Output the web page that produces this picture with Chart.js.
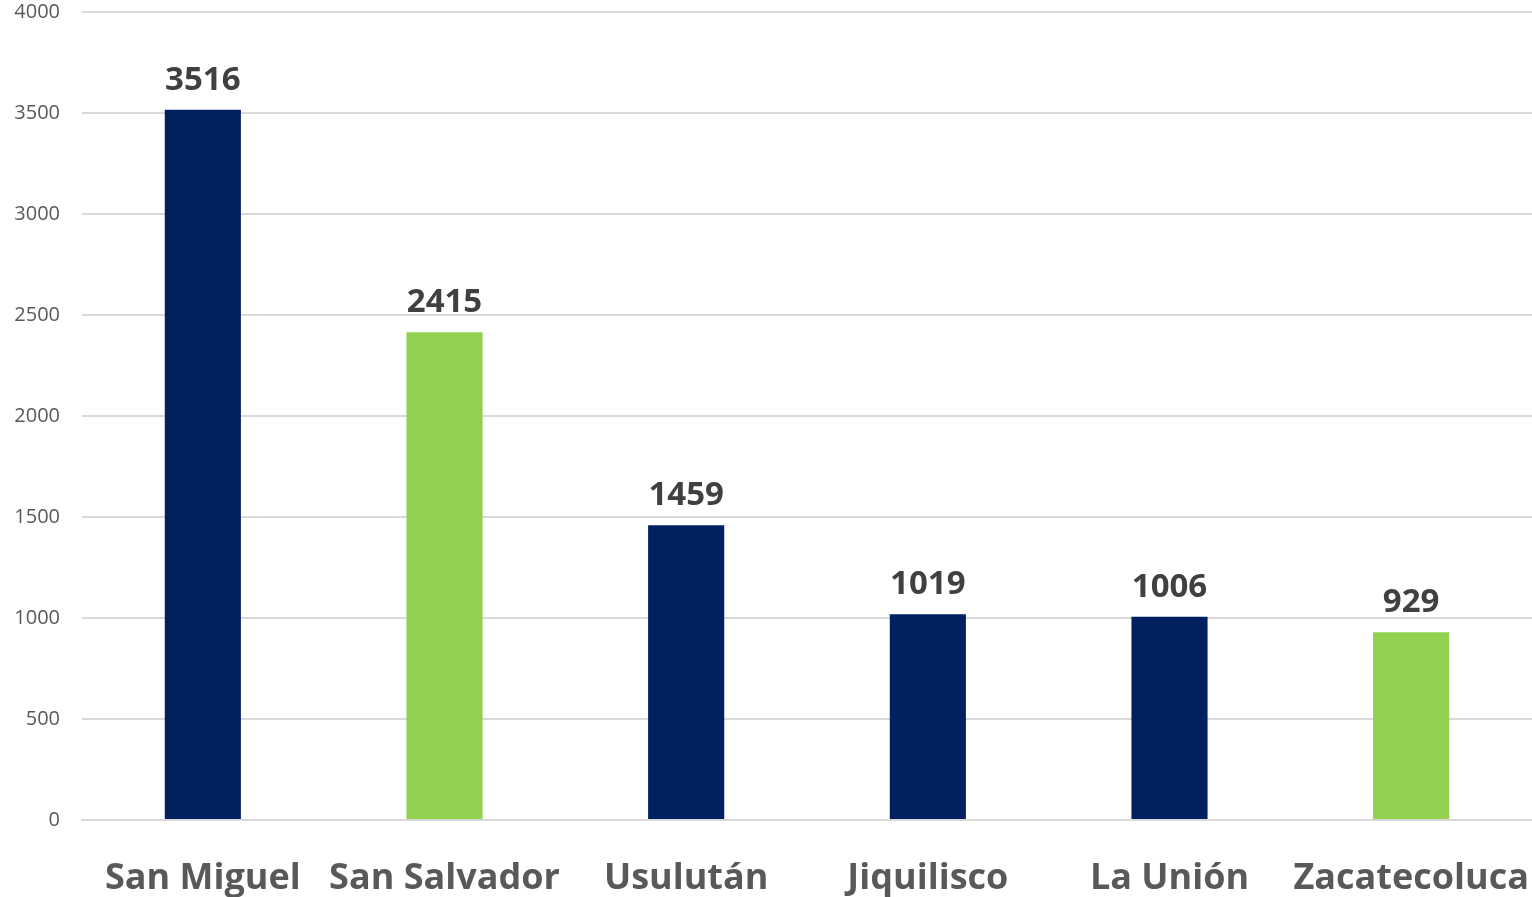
<!DOCTYPE html>
<html>
<head>
<meta charset="utf-8">
<script src="https://cdn.jsdelivr.net/npm/chart.js@4/dist/chart.umd.min.js"></script>
<style>
  html, body { margin: 0; padding: 0; background: #fff; }
  #wrap { width: 1532px; height: 897px; }
</style>
</head>
<body>
<div id="wrap"><canvas id="barChart"></canvas></div>
<script>
var ciudades = ["San Miguel", "San Salvador", "Usulután", "Jiquilisco", "La Unión", "Zacatecoluca"];
var casos = [3516, 2415, 1459, 1019, 1006, 929];
var colores = ["#002060", "#92D050", "#002060", "#002060", "#002060", "#92D050"];

// etiquetas encima de cada barra
var etiquetas = {
  id: "etiquetas",
  afterDatasetsDraw: function (chart) {
    var ctx = chart.ctx;
    var meta = chart.getDatasetMeta(0);
    ctx.save();
    ctx.font = "bold 33px 'Open Sans'";
    ctx.fillStyle = "#404040";
    ctx.textAlign = "center";
    ctx.textBaseline = "alphabetic";
    meta.data.forEach(function (bar, i) {
      ctx.fillText(casos[i], bar.x, bar.y - 20);
    });
    ctx.restore();
  }
};

window.onload = function () {
  var ctx = document.getElementById("barChart").getContext("2d");
  new Chart(ctx, {
    type: "bar",
    data: {
      labels: ciudades,
      datasets: [{
        data: casos,
        backgroundColor: colores,
        barPercentage: 0.63,
        categoryPercentage: 0.5
      }]
    },
    options: {
      responsive: true,
      maintainAspectRatio: false,
      animation: false,
      layout: { padding: 0 },
      plugins: { legend: { display: false }, tooltip: { enabled: false } },
      scales: {
        x: {
          grid: { display: false, drawTicks: false },
          border: { color: "#d9d9d9", width: 2 },
          ticks: {
            color: "#595959",
            font: { family: "'Open Sans'", size: 36, weight: "bold" },
            padding: 37,
            maxRotation: 0,
            autoSkip: false
          },
          afterFit: function (s) {
            s.height = 77;
            s.paddingLeft = 0;
            s.paddingRight = 0;
          }
        },
        y: {
          min: 0,
          max: 4000,
          grid: { color: "#d9d9d9", lineWidth: 2, drawTicks: false },
          border: { display: false },
          ticks: {
            stepSize: 500,
            color: "#595959",
            font: { family: "'Open Sans'", size: 20 },
            padding: 22,
            callback: function (v) { return v; }
          },
          afterFit: function (s) {
            s.width = 82;
            s.paddingTop = 12;
            s.paddingBottom = 0;
          }
        }
      }
    },
    plugins: [etiquetas]
  });
};
</script>
</body>
</html>
